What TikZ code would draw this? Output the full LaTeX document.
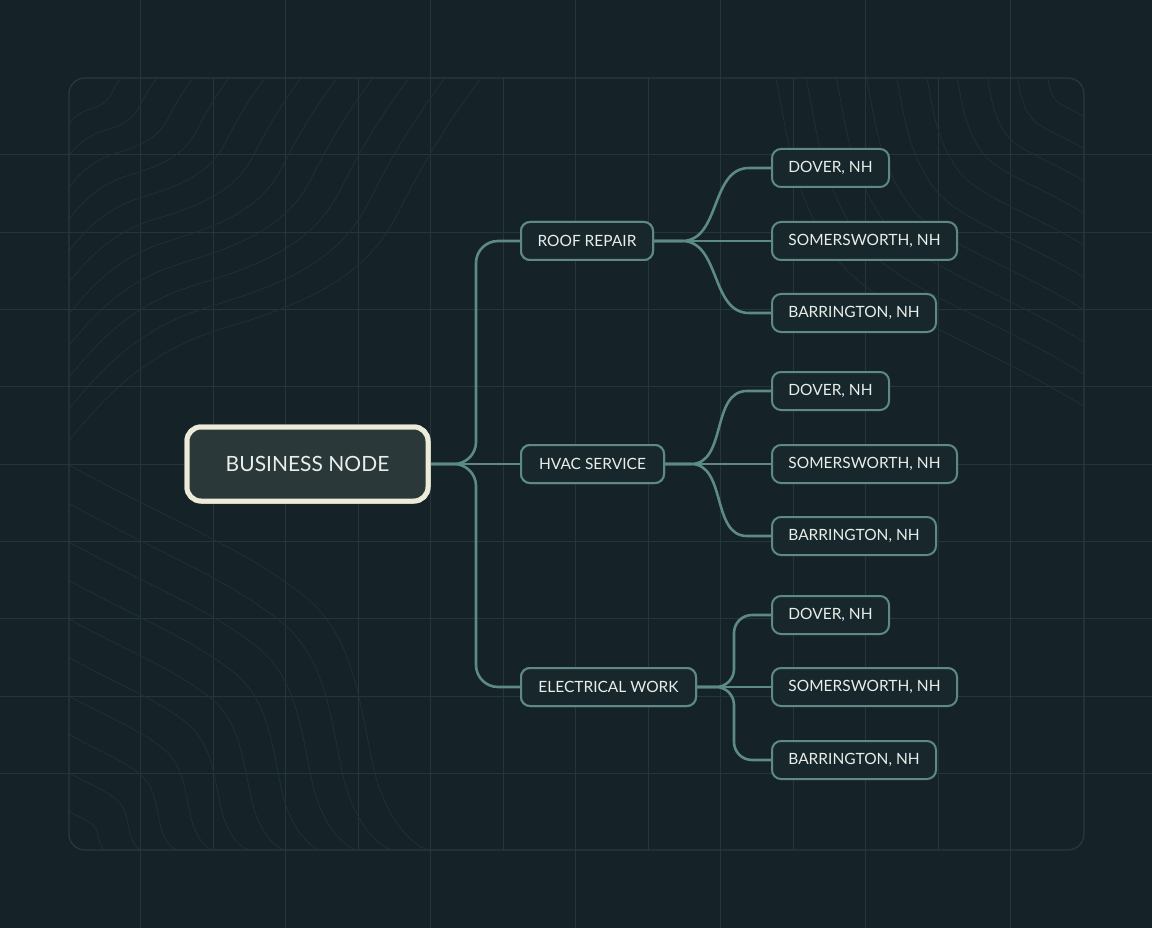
\documentclass[tikz,border=0pt]{standalone}
\usepackage{fontspec}
\setmainfont{Lato}
\usetikzlibrary{calc}
\definecolor{bgc}{RGB}{21,34,39}
\definecolor{gridc}{RGB}{35,54,59}
\definecolor{panelc}{RGB}{40,58,64}
\definecolor{contc}{RGB}{31,48,53}
\definecolor{nodefill}{RGB}{24,39,44}
\definecolor{nodeline}{RGB}{95,136,136}
\definecolor{connc}{RGB}{92,138,134}
\definecolor{bizfill}{RGB}{42,56,58}
\definecolor{bizline}{RGB}{236,234,216}
\definecolor{txtc}{RGB}{232,238,234}
\tikzset{
  leaf/.style={draw=nodeline, line width=2pt, fill=nodefill, rounded corners=9pt,
    minimum height=38pt, inner xsep=0pt, text=txtc,
    font=\fontsize{15.5}{18}\selectfont},
  biz/.style={draw=bizline, line width=5pt, fill=bizfill, rounded corners=14pt,
    minimum height=74pt, minimum width=241pt, text=txtc,
    font=\fontsize{21}{25}\selectfont},
  conn/.style={draw=connc, line width=2.6pt, line join=round},
  gridl/.style={draw=gridc, line width=0.9pt},
  contl/.style={draw=contc, line width=0.8pt}
}
\begin{document}
\begin{tikzpicture}[x=1pt,y=-1pt]
\useasboundingbox (0,0) rectangle (1152,928);
\fill[bgc] (0,0) rectangle (1152,928);
% outer grid verticals
\foreach \x in {140,285,430,575,720,865,1010}
  \draw[gridl] (\x,0) -- (\x,928);
% horizontal grid
\foreach \i in {2,...,10}
  \draw[gridl] (0,{\i*77.33}) -- (1152,{\i*77.33});
% panel
\begin{scope}
  \clip[rounded corners=16pt] (69,78) rectangle (1084,850);
  \foreach \x in {213,358,503,648,793,938}
    \draw[gridl] (\x,78) -- (\x,850);
  % contours top-left (scaled copies about the corner)
  \foreach \k in {0.13,0.22,...,1.05}
    \draw[contl, shift={(69,78)}, scale=\k] (0,352) .. controls (50,290) and (90,260) .. (160,240)
      .. controls (240,215) and (290,190) .. (320,130) .. controls (345,80) and (370,40) .. (400,0);
  % contours bottom-left
  \foreach \k in {0.1,0.2,...,1.05}
    \draw[contl, shift={(69,850)}, scale=\k] (0,-385) .. controls (100,-330) and (180,-300) .. (240,-250)
      .. controls (285,-210) and (290,-150) .. (305,-80) .. controls (315,-40) and (335,-10) .. (358,0);
  % contours top-right
  \foreach \k in {0.12,0.22,...,1.05}
    \draw[contl, shift={(1084,78)}, scale=\k] (-302,0) .. controls (-290,60) and (-285,120) .. (-240,180)
      .. controls (-200,230) and (-100,260) .. (0,322);
\end{scope}
\draw[panelc, line width=1.2pt, rounded corners=16pt] (69,78) rectangle (1084,850);
% nodes
\node[biz] (B) at (307.5,464) {BUSINESS NODE};
\node[leaf, minimum width=132pt] (R) at (587,241) {ROOF REPAIR};
\node[leaf, minimum width=143pt] (H) at (592.5,464) {HVAC SERVICE};
\node[leaf, minimum width=175pt] (E) at (608.5,687) {ELECTRICAL WORK};
\node[leaf, minimum width=117pt] (D1) at (830.5,168) {DOVER, NH};
\node[leaf, minimum width=185pt] (S1) at (864.5,241) {SOMERSWORTH, NH};
\node[leaf, minimum width=164pt] (A1) at (854,313) {BARRINGTON, NH};
\node[leaf, minimum width=117pt] (D2) at (830.5,391) {DOVER, NH};
\node[leaf, minimum width=185pt] (S2) at (864.5,464) {SOMERSWORTH, NH};
\node[leaf, minimum width=164pt] (A2) at (854,536) {BARRINGTON, NH};
\node[leaf, minimum width=117pt] (D3) at (830.5,615) {DOVER, NH};
\node[leaf, minimum width=185pt] (S3) at (864.5,687) {SOMERSWORTH, NH};
\node[leaf, minimum width=164pt] (A3) at (854,760) {BARRINGTON, NH};
% elbow coordinates
\coordinate (m0) at (476,0);
\coordinate (m3) at (734,0);
% connectors
\draw[conn] (B.east) -- (H.west);
\draw[conn, rounded corners=22pt] (B.east) -- (B.east -| m0) |- (R.west);
\draw[conn, rounded corners=22pt] (B.east) -- (B.east -| m0) |- (E.west);
\draw[conn] (R.east) -- (S1.west);
\draw[conn] (R.east) -- ++(28,0) to[out=0,in=180] ($(D1.west)+(-22,0)$) -- (D1.west);
\draw[conn] (R.east) -- ++(28,0) to[out=0,in=180] ($(A1.west)+(-22,0)$) -- (A1.west);
\draw[conn] (H.east) -- (S2.west);
\draw[conn] (H.east) -- ++(26,0) to[out=0,in=180] ($(D2.west)+(-24,0)$) -- (D2.west);
\draw[conn] (H.east) -- ++(26,0) to[out=0,in=180] ($(A2.west)+(-24,0)$) -- (A2.west);
\draw[conn] (E.east) -- (S3.west);
\draw[conn, rounded corners=18pt] (E.east) -- (E.east -| m3) |- (D3.west);
\draw[conn, rounded corners=18pt] (E.east) -- (E.east -| m3) |- (A3.west);
% redraw nodes on top
\node[biz] at (B) {BUSINESS NODE};
\node[leaf, minimum width=132pt] at (R) {ROOF REPAIR};
\node[leaf, minimum width=143pt] at (H) {HVAC SERVICE};
\node[leaf, minimum width=175pt] at (E) {ELECTRICAL WORK};
\end{tikzpicture}
\end{document}
